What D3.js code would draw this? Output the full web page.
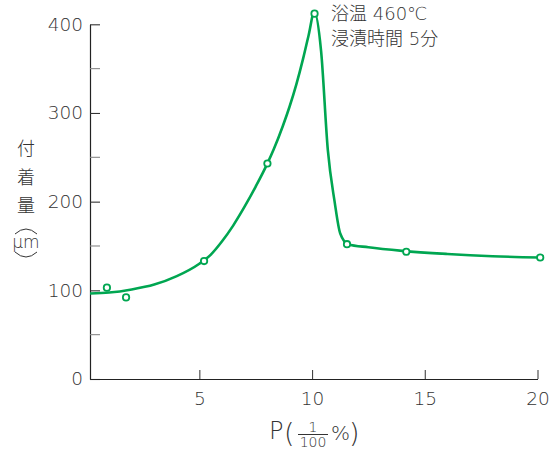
<!DOCTYPE html>
<html><head><meta charset="utf-8">
<script src="https://cdn.jsdelivr.net/npm/d3@7"></script>
<style>
html,body{margin:0;padding:0;background:#fff;}
svg text, svg tspan{font-family:"DejaVu Sans","Noto Sans CJK JP",sans-serif;font-weight:200;}
svg .cjk{font-family:"Noto Sans CJK JP",sans-serif;font-weight:300;}
</style></head>
<body>
<svg id="chart" width="556" height="450"></svg>
<script>
// Measured points
const pointsX = [0.9, 1.75, 5.21, 8.02, 10.11, 11.55, 14.18, 20.12];
const pointsY = [103, 92, 133, 243, 412, 152, 143.5, 137];
// Fitted curve
const curveX = [0.15, 1, 2, 3, 4, 5, 5.5, 6, 6.5, 7, 7.5, 8, 8.3, 8.7, 9, 9.3, 9.6, 9.85, 10.1, 10.4, 10.7, 11.0, 11.25, 11.6, 12.5, 14, 16, 18, 20.1];
const curveY = [96.5, 97.5, 101, 106.5, 116, 130, 140, 155, 173, 194, 217, 242, 259, 285, 307, 332, 361, 388, 414, 370, 258, 200, 164, 152, 148.5, 144.5, 141, 138.5, 137];
const xTicks = [5, 10, 15, 20];
const yMajor = [0, 100, 200, 300, 400];
const yMinor = [50, 150, 250, 350];
const yLabelChars = ["付", "着", "量"];
// annotation lines, split into [CJK part, latin part]
const noteLines = [["浴温", " 460℃"], ["浸漬時間", " 5", "分"]];

const svg = d3.select("#chart");
const x = d3.scaleLinear().domain([0.15, 20]).range([90, 537.5]);
const y = d3.scaleLinear().domain([0, 400]).range([379, 24.3]);
const green = "#00a651";
const txt = "#333";

// Y axis
const gy = svg.append("g").attr("transform", `translate(${x.range()[0]},0)`)
  .call(d3.axisLeft(y).tickValues(yMajor).tickSize(-10).tickSizeOuter(0).tickPadding(7).tickFormat(d3.format("d")));
gy.select(".domain").attr("stroke", "#222").attr("stroke-width", 1.2);
gy.selectAll(".tick line").attr("stroke", "#333").attr("stroke-width", 1.1);
gy.selectAll(".tick text").attr("font-size", 18.5).attr("fill", txt).attr("font-family", null);
gy.selectAll(".minor").data(yMinor).enter().append("line").attr("class", "minor")
  .attr("x1", 0).attr("x2", 10).attr("y1", d => y(d)).attr("y2", d => y(d))
  .attr("stroke", "#888").attr("stroke-width", 1.1);

// X axis
const gx = svg.append("g").attr("transform", `translate(0,${y(0)})`)
  .call(d3.axisBottom(x).tickValues(xTicks).tickSize(-9).tickSizeOuter(0).tickPadding(13));
gx.select(".domain").attr("stroke", "#222").attr("stroke-width", 1.2);
gx.selectAll(".tick line").attr("stroke", "#444").attr("stroke-width", 1.1);
gx.selectAll(".tick text").attr("font-size", 18.5).attr("fill", txt).attr("font-family", null);

// Curve
const curve = curveX.map((d, i) => [d, curveY[i]]);
svg.append("path").datum(curve)
  .attr("d", d3.line().x(d => x(d[0])).y(d => y(d[1])).curve(d3.curveMonotoneX))
  .attr("fill", "none").attr("stroke", green).attr("stroke-width", 2.6);

// Points
svg.selectAll(".pt").data(pointsX.map((d, i) => [d, pointsY[i]])).enter()
  .append("circle").attr("class", "pt")
  .attr("cx", d => x(d[0])).attr("cy", d => y(d[1])).attr("r", 3.2)
  .attr("fill", "#fff").attr("stroke", green).attr("stroke-width", 1.8);

// Annotation
noteLines.forEach((parts, i) => {
  const t = svg.append("text").attr("x", 331).attr("y", 20 + i * 25)
    .attr("font-size", 18).attr("fill", txt);
  parts.forEach(p => {
    const isCjk = /[\u3000-\u9fff]/.test(p);
    t.append("tspan").attr("class", isCjk ? "cjk" : null).text(p);
  });
});

// Y axis label (vertical)
svg.selectAll(".ylab").data(yLabelChars).enter().append("text").attr("class", "cjk")
  .attr("x", 26).attr("y", (d, i) => 155 + i * 28.5).attr("text-anchor", "middle")
  .attr("font-size", 18).attr("fill", txt).text(d => d);
svg.append("text").attr("x", 26).attr("y", 248).attr("text-anchor", "middle")
  .attr("font-size", 17).attr("fill", txt).text("μm");
svg.append("path").attr("d", "M15,234 Q26,224 37,234").attr("fill", "none").attr("stroke", txt).attr("stroke-width", 1);
svg.append("path").attr("d", "M15,252 Q26,262 37,252").attr("fill", "none").attr("stroke", txt).attr("stroke-width", 1);

// X axis label: P(1/100 %)
const xl = svg.append("g").attr("fill", txt);
xl.append("text").attr("x", 269).attr("y", 439).attr("font-size", 24).text("P");
xl.append("text").attr("x", 284).attr("y", 442).attr("font-size", 27).text("(");
xl.append("text").attr("x", 313).attr("y", 432).attr("text-anchor", "middle").attr("font-size", 14).text("1");
xl.append("line").attr("x1", 298).attr("x2", 328).attr("y1", 434.5).attr("y2", 434.5).attr("stroke", txt).attr("stroke-width", 1);
xl.append("text").attr("x", 313).attr("y", 447).attr("text-anchor", "middle").attr("font-size", 14).text("100");
xl.append("text").attr("x", 331).attr("y", 440).attr("font-size", 20).text("%");
xl.append("text").attr("x", 349).attr("y", 442).attr("font-size", 27).text(")");
</script>
</body></html>
